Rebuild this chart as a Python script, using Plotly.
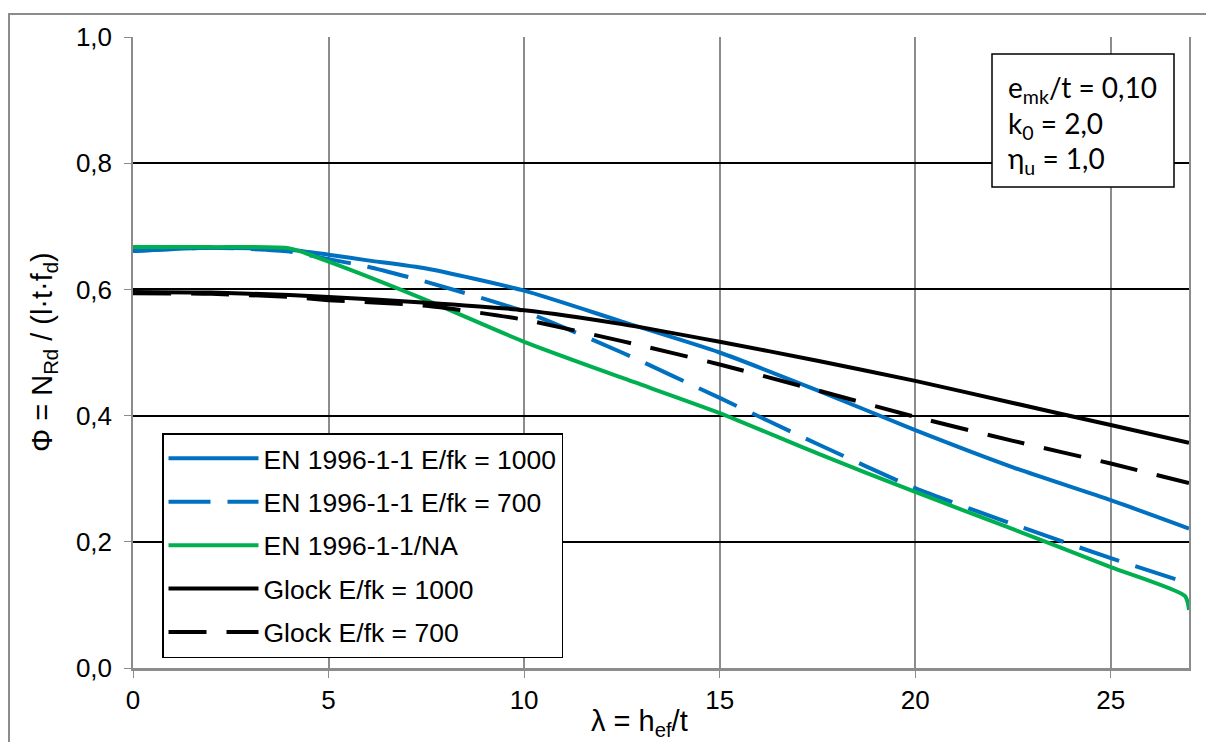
import plotly.graph_objects as go

# lambda = h_ef/t sample positions
x_pts = [0, 2, 4, 5, 6, 7.5, 10, 12.5, 15, 17.5, 20, 22.5, 25, 27]
en_1000 = [0.661, 0.666, 0.663, 0.655, 0.646, 0.633, 0.598, 0.549, 0.500, 0.440, 0.377, 0.318, 0.266, 0.221]
en_700 = [0.661, 0.666, 0.660, 0.648, 0.636, 0.612, 0.565, 0.500, 0.428, 0.355, 0.285, 0.228, 0.174, 0.134]
x_na = [0, 2, 4, 5, 7.5, 10, 12.5, 15, 17.5, 20, 22.5, 25, 26.9, 27]
en_na = [0.667, 0.667, 0.665, 0.644, 0.583, 0.517, 0.460, 0.404, 0.340, 0.279, 0.220, 0.160, 0.114, 0.092]
x_gl = [0, 2, 4, 5, 7.5, 10, 12.5, 15, 17.5, 20, 22.5, 25, 27]
glock_1000 = [0.596, 0.595, 0.591, 0.588, 0.579, 0.567, 0.545, 0.517, 0.487, 0.455, 0.420, 0.385, 0.357]
glock_700 = [0.594, 0.593, 0.588, 0.583, 0.574, 0.552, 0.518, 0.481, 0.440, 0.398, 0.360, 0.324, 0.293]

names = ["EN 1996-1-1 E/fk = 1000", "EN 1996-1-1 E/fk = 700", "EN 1996-1-1/NA",
         "Glock E/fk = 1000", "Glock E/fk = 700"]
x_tick_vals = [0, 5, 10, 15, 20, 25]
y_tick_vals = [0.0, 0.2, 0.4, 0.6, 0.8, 1.0]
y_tick_text = ["0,0", "0,2", "0,4", "0,6", "0,8", "1,0"]

BLUE = "#0070C0"
GREEN = "#00B050"
BLACK = "#000000"
FONT = "Liberation Sans, Arial, sans-serif"

series = [
    (x_pts, en_1000, BLUE, "solid"),
    (x_pts, en_700, BLUE, "42px,17px"),
    (x_na, en_na, GREEN, "solid"),
    (x_gl, glock_1000, BLACK, "solid"),
    (x_gl, glock_700, BLACK, "38px,20px"),
]

fig = go.Figure()
for i, (xs, ys, col, dash) in enumerate(series):
    fig.add_trace(go.Scatter(
        x=xs, y=ys, mode="lines", name=names[i], legendgroup=str(i),
        line=dict(color=col, width=4, dash=dash, shape="spline", smoothing=0.6),
    ))

W, H = 1206, 742
L, R, T, B = 133, 17, 37, 74
pw, ph = W - L - R, H - T - B

def px_x(p):
    return (p - L) / pw

def px_y(p):
    return (H - B - p) / ph

fig.update_layout(
    width=W, height=H,
    margin=dict(l=L, r=R, t=T, b=B),
    paper_bgcolor="white", plot_bgcolor="white",
    separators=",.",
    font=dict(family=FONT, size=26, color="black"),
    showlegend=True,
    legend=dict(
        x=px_x(162), y=px_y(433), xanchor="left", yanchor="top",
        bgcolor="white", bordercolor="black", borderwidth=1.5,
        font=dict(family=FONT, size=26.5, color="black"),
        tracegroupgap=6, itemwidth=90,
    ),
    xaxis=dict(
        range=[0, 27], tickvals=x_tick_vals, showgrid=True, gridcolor="#8c8c8c", gridwidth=1.5,
        showline=True, linecolor="#8c8c8c", linewidth=2.5, ticks="outside", ticklen=7,
        tickcolor="#8c8c8c", zeroline=False, tickfont=dict(size=26), ticklabelstandoff=0,
    ),
    yaxis=dict(
        range=[0, 1.0], tickvals=y_tick_vals, ticktext=y_tick_text, showgrid=True,
        gridcolor="black", gridwidth=1.5, showline=True, linecolor="#8c8c8c", linewidth=1.5,
        mirror=True, ticks="outside", ticklen=7, tickcolor="#8c8c8c", zeroline=False,
        tickfont=dict(size=26), ticklabelstandoff=7,
    ),
)

# outer chart-area frame
fig.add_shape(type="rect", xref="paper", yref="paper",
              x0=px_x(9), x1=px_x(1215), y0=px_y(760), y1=px_y(14),
              line=dict(color="#8c8c8c", width=2), fillcolor="rgba(0,0,0,0)", layer="above")

# parameter box
fig.add_shape(type="rect", xref="paper", yref="paper",
              x0=px_x(992), x1=px_x(1174), y0=px_y(187), y1=px_y(54),
              line=dict(color="black", width=1.5), fillcolor="white", layer="above")
box_lines = ["e<sub>mk</sub>/t = 0,10", "k<sub>0</sub> = 2,0", "η<sub>u</sub> = 1,0"]
box_y = [89, 125, 160]
for txt, yy in zip(box_lines, box_y):
    fig.add_annotation(text=txt, xref="paper", yref="paper", x=px_x(1006), y=px_y(yy),
                       xanchor="left", yanchor="middle", showarrow=False,
                       font=dict(family="Lato, Open Sans, sans-serif", size=28, color="black"))

# axis titles
fig.add_annotation(text="Φ = N<sub>Rd</sub> / (l·t·f<sub>d</sub>)", xref="paper", yref="paper",
                   x=px_x(44), y=px_y(352), textangle=-90, showarrow=False,
                   xanchor="center", yanchor="middle", font=dict(family=FONT, size=29))
fig.add_annotation(text="λ = h<sub>ef</sub>/t", xref="paper", yref="paper",
                   x=px_x(639), y=px_y(723), showarrow=False,
                   xanchor="center", yanchor="middle", font=dict(family=FONT, size=29))

fig.write_html("out.html")
